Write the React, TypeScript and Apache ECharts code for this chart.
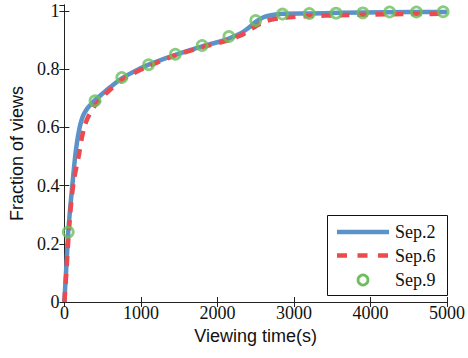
import React, { useEffect, useRef } from "react";
import * as echarts from "echarts";

const sep2X = [0, 10, 25, 50, 75, 100, 125, 150, 175, 200, 225, 250, 300, 350, 400, 450, 500, 600, 750, 900, 1100, 1300, 1450, 1800, 2000, 2150, 2300, 2400, 2500, 2600, 2700, 2850, 3200, 3600, 4200, 5000];
const sep2Y = [0, 0.05, 0.12, 0.24, 0.32, 0.39, 0.46, 0.52, 0.565, 0.6, 0.625, 0.643, 0.665, 0.68, 0.693, 0.705, 0.716, 0.738, 0.768, 0.79, 0.815, 0.835, 0.849, 0.878, 0.892, 0.905, 0.922, 0.94, 0.962, 0.978, 0.985, 0.99, 0.991, 0.993, 0.995, 0.996];

const sep6X = [0, 25, 50, 75, 100, 125, 150, 186, 225, 260, 300, 350, 400, 450, 500, 600, 750, 900, 1100, 1450, 1800, 2150, 2300, 2400, 2500, 2650, 2800, 2950, 3200, 3600, 4200, 5000];
const sep6Y = [0, 0.1, 0.21, 0.3, 0.37, 0.42, 0.455, 0.5, 0.56, 0.6, 0.63, 0.655, 0.675, 0.69, 0.705, 0.73, 0.762, 0.785, 0.81, 0.847, 0.875, 0.9, 0.915, 0.93, 0.947, 0.966, 0.974, 0.978, 0.982, 0.985, 0.988, 0.99];

const sep9X = [50, 400, 750, 1100, 1450, 1800, 2150, 2500, 2850, 3200, 3550, 3900, 4250, 4600, 4950];
const sep9Y = [0.24, 0.691, 0.771, 0.815, 0.851, 0.881, 0.912, 0.967, 0.989, 0.991, 0.992, 0.993, 0.996, 0.996, 0.997];

const seriesNames = ["Sep.2", "Sep.6", "Sep.9"];
const xTicks = [0, 1000, 2000, 3000, 4000, 5000];
const yTicks = [0, 0.2, 0.4, 0.6, 0.8, 1];

const BLUE = "#5b93c9";
const RED = "#ec4a4e";
const GREEN = "#6cbf5c";

const zip = (xs: number[], ys: number[]) => xs.map((x, i) => [x, ys[i]]);

export default function App() {
  const ref = useRef<HTMLDivElement>(null);
  useEffect(() => {
    const chart = echarts.init(ref.current!, null, { renderer: "svg" });
    const serif = "Liberation Serif";
    const sans = "Liberation Sans";
    const axisLine = { show: true, lineStyle: { color: "#222", width: 1 } };
    const tick = { show: true, inside: true, length: 5, lineStyle: { color: "#222", width: 1 } };
    const lx = 337;
    const lw = 52;
    const rowY = [232, 255.5, 280];
    const legendText = (i: number) => ({
      type: "text",
      x: 395,
      y: rowY[i],
      style: {
        text: seriesNames[i],
        fontFamily: serif,
        fontSize: 18,
        fill: "#111",
        verticalAlign: "middle",
        align: "left",
      },
      z: 10,
    });
    chart.setOption({
      animation: false,
      backgroundColor: "#fff",
      grid: { left: 61, right: 19, top: 5, bottom: 56, containLabel: false },
      graphic: [
        {
          type: "rect",
          shape: { x: 327.5, y: 215.5, width: 120, height: 80 },
          style: { fill: "#fff", stroke: "#111", lineWidth: 1 },
          z: 9,
        },
        {
          type: "line",
          shape: { x1: lx, y1: rowY[0], x2: lx + lw, y2: rowY[0] },
          style: { stroke: BLUE, lineWidth: 4.5 },
          z: 10,
        },
        {
          type: "line",
          shape: { x1: lx, y1: rowY[1], x2: lx + lw, y2: rowY[1] },
          style: { stroke: RED, lineWidth: 4.5, lineDash: [10, 10.5] },
          z: 10,
        },
        {
          type: "circle",
          shape: { cx: lx + lw / 2, cy: rowY[2], r: 5 },
          style: { fill: "none", stroke: GREEN, lineWidth: 2.8 },
          z: 10,
        },
        legendText(0),
        legendText(1),
        legendText(2),
      ],
      xAxis: [
        {
          type: "value",
          min: 0,
          max: 5000,
          interval: 1000,
          name: "Viewing time(s)",
          nameLocation: "middle",
          nameGap: 24,
          nameTextStyle: { fontFamily: sans, fontSize: 18, color: "#111" },
          axisLine,
          axisTick: tick,
          splitLine: { show: false },
          axisLabel: {
            margin: 2,
            fontFamily: serif,
            fontSize: 18,
            color: "#111",
            formatter: (v: number) => (xTicks.includes(v) ? String(v) : ""),
          },
        },
        {
          type: "value",
          position: "top",
          min: 0,
          max: 5000,
          interval: 1000,
          axisLine,
          axisTick: tick,
          axisLabel: { show: false },
          splitLine: { show: false },
        },
      ],
      yAxis: [
        {
          type: "value",
          min: 0,
          max: 1.02,
          interval: 0.2,
          name: "Fraction of views",
          nameLocation: "middle",
          nameGap: 37,
          nameTextStyle: { fontFamily: sans, fontSize: 18, color: "#111" },
          axisLine,
          axisTick: tick,
          splitLine: { show: false },
          axisLabel: {
            margin: 5,
            fontFamily: serif,
            fontSize: 18,
            color: "#111",
            showMaxLabel: false,
            formatter: (v: number) => {
              const t = yTicks.find((y) => Math.abs(y - v) < 1e-6);
              return t === undefined ? "" : String(t);
            },
          },
        },
        {
          type: "value",
          position: "right",
          min: 0,
          max: 1.02,
          interval: 0.2,
          axisLine,
          axisTick: tick,
          axisLabel: { show: false },
          splitLine: { show: false },
        },
      ],
      series: [
        {
          name: seriesNames[0],
          type: "line",
          data: zip(sep2X, sep2Y),
          symbol: "none",
          smooth: 0.25,
          color: BLUE,
          lineStyle: { color: BLUE, width: 4.5 },
          z: 2,
        },
        {
          name: seriesNames[1],
          type: "line",
          data: zip(sep6X, sep6Y),
          symbol: "none",
          smooth: 0.25,
          color: RED,
          lineStyle: { color: RED, width: 4.5, type: [10, 8] },
          z: 3,
        },
        {
          name: seriesNames[2],
          type: "scatter",
          data: zip(sep9X, sep9Y),
          symbol: "circle",
          symbolSize: 10,
          color: GREEN,
          itemStyle: { color: "transparent", borderColor: GREEN, borderWidth: 2.8 },
          z: 4,
        },
      ],
    });
    return () => chart.dispose();
  }, []);
  return (
    <div
      ref={ref}
      style={{ position: "fixed", left: 0, top: 0, width: 468, height: 358, background: "#fff" }}
    />
  );
}
